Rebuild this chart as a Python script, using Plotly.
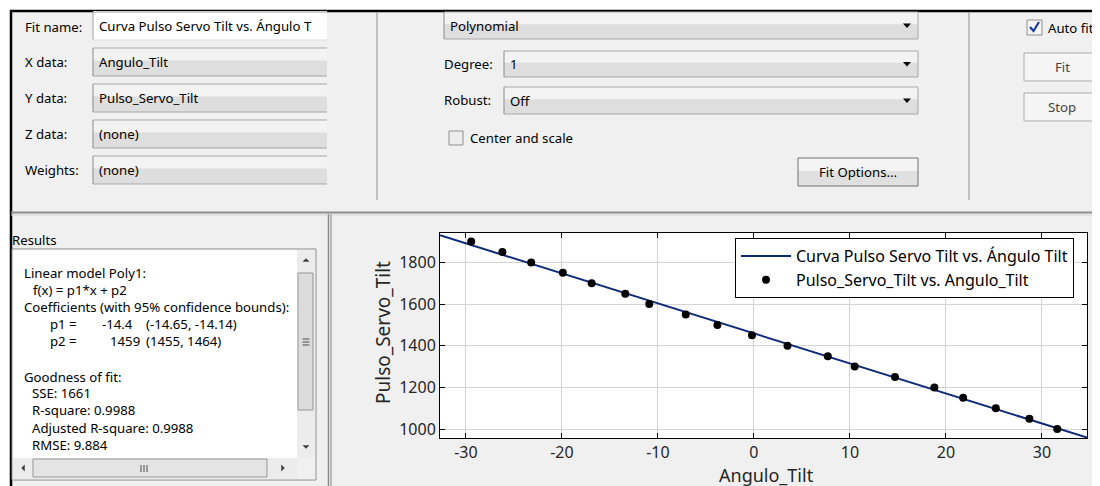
import plotly.graph_objects as go

# ---------------- data ----------------
angulo_tilt = [-29.45, -26.2, -23.2, -19.9, -16.9, -13.4, -10.9, -7.1, -3.8, -0.2,
               3.5, 7.7, 10.5, 14.7, 18.8, 21.8, 25.2, 28.7, 31.6]
pulso_servo_tilt = [1900, 1850, 1800, 1750, 1700, 1650, 1600, 1550, 1500, 1450,
                    1400, 1350, 1300, 1250, 1200, 1150, 1100, 1050, 1000]
p1 = -14.4
p2 = 1459
x_range = [-32.7, 34.7]
y_range = [957, 1941]
x_ticks = [-30, -20, -10, 0, 10, 20, 30]
y_ticks = [1000, 1200, 1400, 1600, 1800]
fit_name = "Curva Pulso Servo Tilt vs. Ángulo Tilt"
points_name = "Pulso_Servo_Tilt vs. Angulo_Tilt"

fit_x = list(x_range)
fit_y = [p1 * x + p2 for x in fit_x]

FONT = "Noto Sans"
UI = 13.2
OFF = 8  # page body margin
L, R, T, B = 440, 1087, 233, 438  # plot area in screen pixels
W, H = R - L, B - T


def px(x):
    return (x - L) / W


def py(y):
    return (B - y) / H


shapes = []
anns = []


def rect(x0, y0, x1, y1, fill=None, line=None, lw=1):
    shapes.append(dict(type="rect", xref="paper", yref="paper", layer="above",
                       x0=px(x0), x1=px(x1), y0=py(y1), y1=py(y0),
                       fillcolor=fill or "rgba(0,0,0,0)",
                       line=dict(color=line or "rgba(0,0,0,0)", width=lw if line else 0)))


def seg(x0, y0, x1, y1, color, w=1):
    shapes.append(dict(type="line", xref="paper", yref="paper", layer="above",
                       x0=px(x0), x1=px(x1), y0=py(y0), y1=py(y1),
                       line=dict(color=color, width=w)))


def poly(pts, fill=None, line=None, lw=1, close=True):
    d = "M " + " L ".join(f"{px(a):.5f},{py(b):.5f}" for a, b in pts)
    if close:
        d += " Z"
    shapes.append(dict(type="path", xref="paper", yref="paper", layer="above", path=d,
                       fillcolor=fill or "rgba(0,0,0,0)",
                       line=dict(color=line or "rgba(0,0,0,0)", width=lw if line else 0)))


def text(x, y, s, size=UI, anchor="left", color="#000000", angle=0):
    anns.append(dict(x=px(x), y=py(y), xref="paper", yref="paper", text=s, showarrow=False,
                     xanchor=anchor, yanchor="middle", textangle=angle,
                     font=dict(family=FONT, size=size, color=color)))


def combo(x0, y0, x1, y1, label, arrow=False, right_border=True):
    h = y1 - y0
    rect(x0, y0, x1, y0 + h * 0.45, fill="#f3f3f3")
    rect(x0, y0 + h * 0.45, x1, y1, fill="#dedede")
    seg(x0, y0, x1, y0, "#a8a8a8")
    seg(x0, y1, x1, y1, "#a8a8a8")
    seg(x0, y0, x0, y1, "#8a8a8a")
    if right_border:
        seg(x1, y0, x1, y1, "#a8a8a8")
    text(x0 + 4, (y0 + y1) / 2, label)
    if arrow:
        cx, cy = x1 - 11, (y0 + y1) / 2
        poly([(cx - 4, cy - 2), (cx + 4, cy - 2), (cx, cy + 2.5)], fill="#000000")


def tri(cx, cy, direction, s=3.5, color="#404040"):
    if direction == "up":
        pts = [(cx - s, cy + s / 2), (cx + s, cy + s / 2), (cx, cy - s / 2)]
    elif direction == "down":
        pts = [(cx - s, cy - s / 2), (cx + s, cy - s / 2), (cx, cy + s / 2)]
    elif direction == "left":
        pts = [(cx + s / 2, cy - s), (cx + s / 2, cy + s), (cx - s / 2, cy)]
    else:
        pts = [(cx - s / 2, cy - s), (cx - s / 2, cy + s), (cx + s / 2, cy)]
    poly(pts, fill=color)


# --------- window frame ---------
rect(0, 0, 1100, 10, fill="#ffffff")
rect(0, 0, 10, 486, fill="#ffffff")
seg(10, 11, 1100, 11, "#000000", 2.5)
seg(11, 10, 11, 486, "#000000", 2.5)

# --------- top-left: data selection ---------
text(23, 27, "Fit name:")
rect(93, 11, 327, 40, fill="#ffffff")
seg(93, 12, 327, 12, "#a0a0a0")
seg(93, 12, 93, 40, "#a0a0a0")
seg(93, 40, 327, 40, "#dcdcdc")
text(97, 26, "Curva Pulso Servo Tilt vs. Ángulo T")

labels_left = [("X data:", 48, 76, "Angulo_Tilt"),
               ("Y data:", 84, 112, "Pulso_Servo_Tilt"),
               ("Z data:", 120, 148, "(none)"),
               ("Weights:", 156, 184, "(none)")]
for lab, y0, y1, val in labels_left:
    text(23, (y0 + y1) / 2, lab)
    combo(93, y0, 327, y1, val, right_border=False)

# separators
seg(377, 12, 377, 200, "#a0a0a0", 1.2)
seg(969, 12, 969, 200, "#a0a0a0", 1.2)

# --------- middle: fit type ---------
combo(444, 12, 918, 39, "Polynomial", arrow=True)
text(442, 64, "Degree:")
combo(504, 51, 918, 77, "1", arrow=True)
text(442, 100, "Robust:")
combo(504, 87, 918, 114, "Off", arrow=True)
rect(449, 131, 463, 145, fill="#ececec", line="#8f8f8f")
text(468, 138, "Center and scale")
# Fit options button
rect(798, 158, 918, 171, fill="#f4f4f4")
rect(798, 171, 918, 186, fill="#e0e0e0")
rect(798, 158, 918, 186, line="#707070")
text(858, 172, "Fit Options...", anchor="center")

# --------- right: auto fit ---------
rect(1027, 20, 1042, 35, fill="#f4f4f4", line="#8f8f8f")
poly([(1030, 27), (1033.5, 31), (1039, 22)], line="#1c3aa0", lw=2.2, close=False)
text(1046, 28, "Auto fit")
rect(1024, 53, 1104, 81, fill="#f5f5f5", line="#adadad")
text(1062, 67, "Fit", anchor="center", color="#444444")
rect(1024, 93, 1104, 121, fill="#f5f5f5", line="#adadad")
text(1062, 107, "Stop", anchor="center", color="#444444")

# horizontal separator
seg(11, 212.5, 1100, 212.5, "#8c8c8c", 2)
seg(11, 215, 1100, 215, "#d6d6d6", 1)

# --------- results panel ---------
text(10, 240, "Results")
rect(12, 249, 316, 480, fill="#ffffff", line="#8a8a8a")
res_lines = [
    (22, 273, "Linear model Poly1:"),
    (31, 290, "f(x) = p1*x + p2"),
    (22, 307, "Coefficients (with 95% confidence bounds):"),
    (48, 324, "p1 ="),
    (100, 324, f"{p1}"),
    (144, 324, "(-14.65, -14.14)"),
    (48, 341, "p2 ="),
    (108, 341, f"{p2}"),
    (144, 341, "(1455, 1464)"),
    (22, 377, "Goodness of fit:"),
    (30, 393, "SSE: 1661"),
    (30, 410, "R-square: 0.9988"),
    (30, 428, "Adjusted R-square: 0.9988"),
    (30, 445, "RMSE: 9.884"),
]
for x, y, s in res_lines:
    text(x, y, s)

# vertical scrollbar
rect(297, 250, 315, 458, fill="#ececec")
rect(298, 273, 313, 410, fill="#dcdcdc", line="#979797")
tri(306, 260, "up")
tri(306, 447, "down")
for gy in (339, 342, 345):
    seg(302.5, gy, 309.5, gy, "#505050", 1)
# horizontal scrollbar
rect(13, 458, 297, 479, fill="#ececec")
rect(33, 459, 267, 477, fill="#e4e4e4", line="#979797")
tri(23, 468, "left")
tri(283, 468, "right")
for gx in (141, 144, 147):
    seg(gx, 465, gx, 472, "#505050", 1)
rect(297, 458, 315, 479, fill="#f0f0f0")

# panel separator
seg(328.5, 214, 328.5, 486, "#8c8c8c", 1.5)
seg(331, 214, 331, 486, "#a8a8a8", 1.5)

# axis titles
text(383, 333, "Pulso_Servo_Tilt", size=19, anchor="center", color="#262626", angle=-90)
text(766, 475, "Angulo_Tilt", size=18, anchor="center", color="#262626")

# ---------------- figure ----------------
fig = go.Figure()
fig.add_trace(go.Scatter(x=fit_x, y=fit_y, mode="lines", name=fit_name,
                         line=dict(color="#0e2a78", width=2)))
fig.add_trace(go.Scatter(x=angulo_tilt, y=pulso_servo_tilt, mode="markers", name=points_name,
                         marker=dict(color="#000000", size=8)))

axis_common = dict(ticks="inside", ticklen=5, tickcolor="#000000", showline=True,
                   linecolor="#000000", linewidth=1, mirror="ticks", showgrid=True,
                   gridcolor="#d4d4d4", gridwidth=1, zeroline=False,
                   tickfont=dict(family=FONT, size=16, color="#262626"))

fig.update_layout(
    width=1100 - OFF, height=486 - OFF, autosize=False,
    margin=dict(l=L - OFF, r=1100 - R, t=T - OFF, b=486 - B, pad=0),
    paper_bgcolor="#f0f0f0", plot_bgcolor="#ffffff",
    xaxis=dict(range=x_range, tickvals=x_ticks, ticktext=[str(v) for v in x_ticks],
               **axis_common),
    yaxis=dict(range=y_range, tickvals=y_ticks, ticktext=[str(v) for v in y_ticks],
               **axis_common),
    showlegend=True,
    legend=dict(x=px(1074), y=py(238), xanchor="right", yanchor="top",
                bgcolor="#ffffff", bordercolor="#000000", borderwidth=1, itemwidth=50,
                font=dict(family=FONT, size=16, color="#000000"), tracegroupgap=0),
    shapes=shapes, annotations=anns,
)

fig.write_html("out.html")
